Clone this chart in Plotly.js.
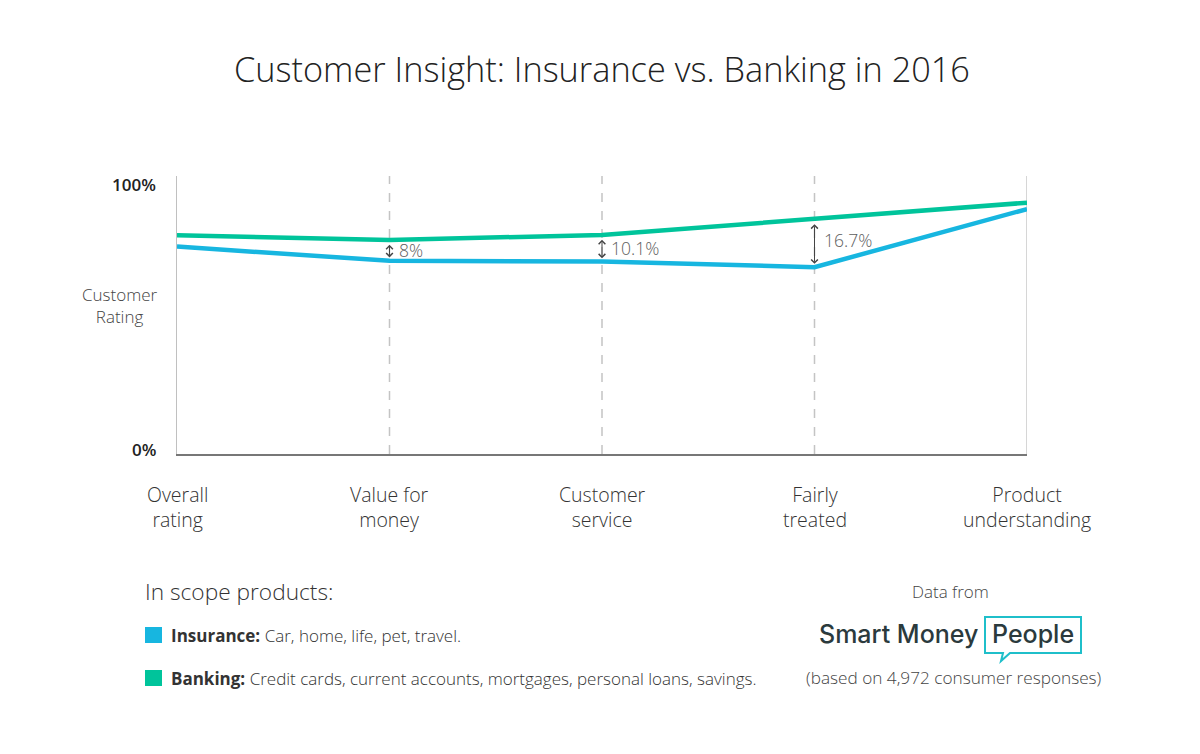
<!DOCTYPE html>
<html>
<head>
<meta charset="utf-8">
<script src="https://cdn.plot.ly/plotly-3.0.1.min.js"></script>
<style>
  html, body { margin: 0; padding: 0; background: #ffffff; }
  #chart { width: 1200px; height: 754px; }
</style>
</head>
<body>
<div id="chart"></div>
<script>
// ---- data ----
var categories = ['Overall rating', 'Value for money', 'Customer service', 'Fairly treated', 'Product understanding'];
var tickLabels = ['Overall<br>rating', 'Value for<br>money', 'Customer<br>service', 'Fairly<br>treated', 'Product<br>understanding'];
var banking   = [78.7, 77.0, 78.8, 84.4, 90.4];
var insurance = [74.6, 69.5, 69.2, 67.2, 88.1];
var gapLabels = ['', '8%', '10.1%', '16.7%', ''];
var gapIndex  = [1, 2, 3];

var FONT = '"Open Sans", "DejaVu Sans", sans-serif';
var BLUE = '#17b6e0';
var GREEN = '#00c49b';

// plot area in pixels: x 177..1027, y 176..454
var L = 177, R = 1027, T = 176, B = 454;
function px(x) { return (x - L) / (R - L); }
function py(y) { return (B - y) / (B - T); }

var xIdx = categories.map(function (c, i) { return i; });

var traces = [
  { x: xIdx, y: banking, type: 'scatter', mode: 'lines', name: 'Banking',
    line: { color: GREEN, width: 4.5 }, hoverinfo: 'skip' },
  { x: xIdx, y: insurance, type: 'scatter', mode: 'lines', name: 'Insurance',
    line: { color: BLUE, width: 4.5 }, hoverinfo: 'skip' }
];

var annotations = [];
var shapes = [];

// x tick labels
tickLabels.forEach(function (t, i) {
  annotations.push({ x: i, xref: 'x', y: py(479), yref: 'paper', yanchor: 'top', xanchor: 'center',
    text: t, showarrow: false, align: 'center',
    font: { family: FONT, size: 19.5, color: '#333333', weight: 300 } });
});

// y labels
annotations.push({ x: px(158), xref: 'paper', y: py(184), yref: 'paper', xanchor: 'right', yanchor: 'middle',
  text: '100%', showarrow: false, font: { family: FONT, size: 17, color: '#222222', weight: 600 } });
annotations.push({ x: px(158), xref: 'paper', y: py(449), yref: 'paper', xanchor: 'right', yanchor: 'middle',
  text: '0%', showarrow: false, font: { family: FONT, size: 17, color: '#222222', weight: 600 } });
annotations.push({ x: px(120), xref: 'paper', y: py(305), yref: 'paper', xanchor: 'center', yanchor: 'middle',
  text: 'Customer<br>Rating', showarrow: false, align: 'center',
  font: { family: FONT, size: 17, color: '#444444', weight: 300 } });

// gap arrows and labels
gapIndex.forEach(function (i) {
  annotations.push({ x: i, y: insurance[i] + 1.2, xref: 'x', yref: 'y',
    ax: i, ay: banking[i] - 1.2, axref: 'x', ayref: 'y',
    text: '', showarrow: true, arrowside: 'end+start', arrowhead: 4, startarrowhead: 4,
    arrowsize: 1.3, startarrowsize: 1.3, arrowwidth: 1, arrowcolor: '#444444' });
  annotations.push({ x: i, y: (insurance[i] + banking[i]) / 2, xref: 'x', yref: 'y',
    xanchor: 'left', yanchor: 'middle', xshift: 7, yshift: (i === 3 ? 3 : 0),
    text: gapLabels[i], showarrow: false,
    font: { family: FONT, size: 17.5, color: '#5e5e5e', weight: 300 } });
});

// vertical dashed lines at interior categories
gapIndex.forEach(function (i) {
  shapes.push({ type: 'line', xref: 'x', yref: 'paper', x0: i, x1: i, y0: 0, y1: 1,
    line: { color: '#c4c4c4', width: 1.5, dash: 'dash' }, layer: 'below' });
});
// right edge line
shapes.push({ type: 'line', xref: 'x', yref: 'paper', x0: 4, x1: 4, y0: 0, y1: 1,
  line: { color: '#c8c8c8', width: 1.5 }, layer: 'below' });

// bottom legend block
annotations.push({ x: px(143), xref: 'paper', y: py(591), yref: 'paper', xanchor: 'left', yanchor: 'middle',
  text: 'In scope products:', showarrow: false, font: { family: FONT, size: 22.7, color: '#333333', weight: 300 } });
shapes.push({ type: 'rect', xref: 'paper', yref: 'paper', x0: px(145), x1: px(162), y0: py(643), y1: py(627),
  fillcolor: BLUE, line: { width: 0 } });
shapes.push({ type: 'rect', xref: 'paper', yref: 'paper', x0: px(145), x1: px(162), y0: py(686), y1: py(670),
  fillcolor: GREEN, line: { width: 0 } });
annotations.push({ x: px(169), xref: 'paper', y: py(635), yref: 'paper', xanchor: 'left', yanchor: 'middle',
  text: '<b>Insurance:</b> Car, home, life, pet, travel.', showarrow: false,
  font: { family: FONT, size: 17, color: '#333333', weight: 300 } });
annotations.push({ x: px(169), xref: 'paper', y: py(678), yref: 'paper', xanchor: 'left', yanchor: 'middle',
  text: '<b>Banking:</b> Credit cards, current accounts, mortgages, personal loans, savings.', showarrow: false,
  font: { family: FONT, size: 17, color: '#333333', weight: 300 } });

// data source block
annotations.push({ x: px(950), xref: 'paper', y: py(591), yref: 'paper', xanchor: 'center', yanchor: 'middle',
  text: 'Data from', showarrow: false, font: { family: FONT, size: 17, color: '#444444', weight: 300 } });
annotations.push({ x: px(898), xref: 'paper', y: py(634), yref: 'paper', xanchor: 'center', yanchor: 'middle',
  text: 'Smart Money', showarrow: false, font: { family: 'Inter, Lato, sans-serif', size: 25, color: '#2b3a3d', weight: 500 } });
annotations.push({ x: px(1033), xref: 'paper', y: py(634), yref: 'paper', xanchor: 'center', yanchor: 'middle',
  text: 'People', showarrow: false, font: { family: 'Inter, Lato, sans-serif', size: 25, color: '#2b3a3d', weight: 500 } });
annotations.push({ x: px(953), xref: 'paper', y: py(677), yref: 'paper', xanchor: 'center', yanchor: 'middle',
  text: '(based on 4,972 consumer responses)', showarrow: false, font: { family: FONT, size: 17.2, color: '#444444', weight: 300 } });

var bubble = 'M ' + px(985) + ',' + py(617) + ' L ' + px(1081) + ',' + py(617) + ' L ' + px(1081) + ',' + py(653) +
  ' L ' + px(1010) + ',' + py(653) + ' L ' + px(1001) + ',' + py(661) + ' L ' + px(1003) + ',' + py(653) +
  ' L ' + px(985) + ',' + py(653) + ' Z';
shapes.push({ type: 'path', xref: 'paper', yref: 'paper', path: bubble,
  line: { color: '#1fbfca', width: 2 }, fillcolor: 'rgba(0,0,0,0)' });

var layout = {
  width: 1200, height: 754,
  paper_bgcolor: '#ffffff', plot_bgcolor: '#ffffff',
  margin: { l: L, r: 1200 - R, t: T, b: 754 - B, pad: 0 },
  showlegend: false,
  title: { text: 'Customer Insight: Insurance vs. Banking in 2016', x: 0.5, xref: 'paper', xanchor: 'center',
    y: 1 - 70 / 754, yref: 'container', yanchor: 'middle',
    font: { family: FONT, size: 34.3, color: '#222222', weight: 300 } },
  xaxis: { type: 'linear', range: [0, 4], showgrid: false, zeroline: false, showticklabels: false,
    showline: true, linecolor: '#777777', linewidth: 1.5, ticks: '', fixedrange: true },
  yaxis: { range: [0, 100], showgrid: false, zeroline: false, showticklabels: false,
    showline: true, linecolor: '#c0c0c0', linewidth: 1.5, ticks: '', fixedrange: true },
  annotations: annotations,
  shapes: shapes
};

Plotly.newPlot('chart', traces, layout, { displayModeBar: false, staticPlot: true });
</script>
</body>
</html>
